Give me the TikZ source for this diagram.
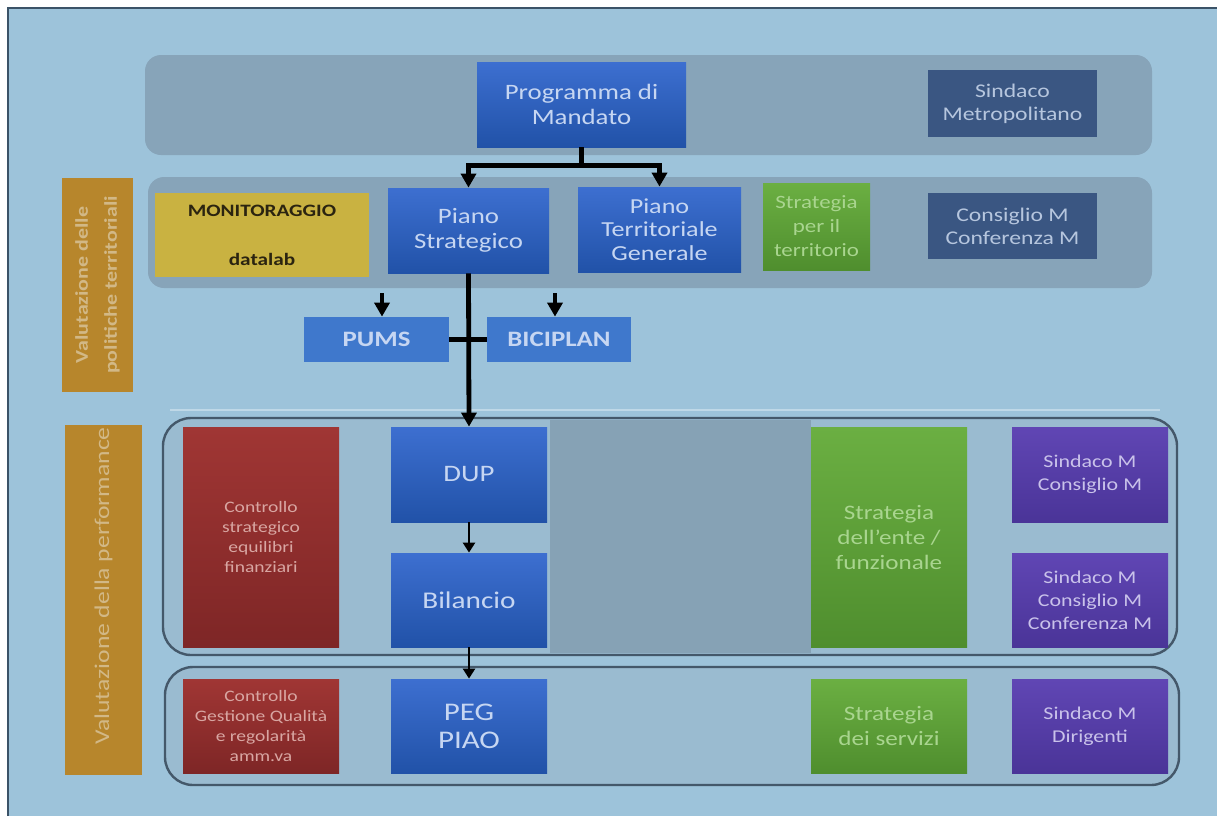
\documentclass[tikz,border=0pt]{standalone}
\usepackage{fontspec}
\setmainfont{Carlito}[FakeStretch=1.22]
\usetikzlibrary{arrows.meta,calc}

\definecolor{bgblue}{HTML}{9DC3DA}
\definecolor{framec}{HTML}{3B5368}
\definecolor{bandc}{HTML}{87A4B9}
\definecolor{panelc}{HTML}{9ABBD0}
\definecolor{grayc}{HTML}{86A2B5}
\definecolor{outlc}{HTML}{44586A}
\definecolor{bluetop}{HTML}{3D6FD0}
\definecolor{bluebot}{HTML}{2152A8}
\definecolor{bluetext}{HTML}{C6D6F2}
\definecolor{pumsc}{HTML}{3F78CC}
\definecolor{navyc}{HTML}{3A5682}
\definecolor{navytext}{HTML}{B6C6DE}
\definecolor{greentop}{HTML}{6BAF42}
\definecolor{greenbot}{HTML}{4F8E2E}
\definecolor{greentext}{HTML}{A9D58F}
\definecolor{olivec}{HTML}{C9B241}
\definecolor{olivetext}{HTML}{2B2410}
\definecolor{redtop}{HTML}{A03634}
\definecolor{redbot}{HTML}{7E2626}
\definecolor{redtext}{HTML}{D8A6A2}
\definecolor{purptop}{HTML}{6046B4}
\definecolor{purpbot}{HTML}{4A3498}
\definecolor{purptext}{HTML}{C9C2EA}
\definecolor{orangec}{HTML}{B7862C}
\definecolor{orangetext}{HTML}{D2B886}

\newcommand{\fsz}[2]{\fontsize{#1}{#2}\selectfont}

\begin{document}
\begin{tikzpicture}[x=0.5pt, y=-0.5pt, >={Triangle[width=7.5pt,length=7pt]},
    box/.style={rectangle, align=center, inner sep=1pt, font=\fsz{11}{12.5}},
    sz/.style 2 args={minimum width=0.5pt*#1, minimum height=0.5pt*#2},
    bluebox/.style={box, top color=bluetop, bottom color=bluebot, text=bluetext},
    navybox/.style={box, fill=navyc, text=navytext, font=\fsz{9.7}{11.5}},
    greenbox/.style={box, top color=greentop, bottom color=greenbot, text=greentext},
    redbox/.style={box, top color=redtop, bottom color=redbot, text=redtext, font=\fsz{8}{10}},
    purpbox/.style={box, top color=purptop, bottom color=purpbot, text=purptext, font=\fsz{9}{11.5}},
    planbox/.style={box, fill=pumsc, text=bluetext, font=\bfseries\fsz{11}{13}},
    sidelab/.style={box, rotate=90, fill=orangec, text=orangetext},
    band/.style={fill=bandc, rounded corners=8pt},
    area/.style={draw=outlc, line width=1.2pt, fill=panelc, rounded corners=14pt},
    link/.style={line width=2.4pt},
    thinlink/.style={line width=1.2pt, >={Triangle[width=6pt,length=5pt]}}]
  \useasboundingbox (0,0) rectangle (1217,816);
  \fill[white] (0,0) rectangle (1217,816);
  \fill[bgblue] (8,8) rectangle (1217,816);
  \draw[framec, line width=1.4pt] (8,816) -- (8,8) -- (1217,8);

  % bands and areas
  \fill[band] (145,55) rectangle (1152,155);
  \fill[band] (148,177) rectangle (1152,288);
  \draw[white!35!bgblue, line width=0.8pt] (170,410) -- (1160,410);
  \draw[area] (163,418) rectangle (1177,655);
  \fill[grayc] (550,420) rectangle (811,653);
  \draw[area] (165,667) rectangle (1179,785);

  % side labels
  \node[sidelab, sz={214}{71}, font=\bfseries\fsz{9}{14.5}] (valterr) at (97.5,285)
    {Valutazione delle\\politiche territoriali};
  \node[sidelab, sz={346}{77}, font=\fsz{10.5}{12}] (valperf) at (103.5,600)
    {\hspace*{14pt}Valutazione della performance};

  % top rows
  \node[bluebox, sz={209}{85}] (prog) at (581.5,104.5) {Programma di\\Mandato};
  \node[navybox, sz={169}{67}] (sindmet) at (1012.5,103.5) {Sindaco\\Metropolitano};
  \node[box, fill=olivec, text=olivetext, sz={214}{84}, font=\bfseries\fsz{8.7}{11}] (monit)
    at (262,235) {MONITORAGGIO\\[13.5pt]datalab};
  \node[bluebox, sz={161}{85}] (pstrat) at (468.5,230.5) {Piano\\Strategico};
  \node[bluebox, sz={163}{85}, font=\fsz{10.7}{11.8}] (pterr) at (659.5,229.5)
    {Piano\\Territoriale\\Generale};
  \node[greenbox, sz={107}{87}, font=\fsz{9.4}{12}] (strterr) at (816.5,226.5)
    {Strategia\\per il\\territorio};
  \node[navybox, sz={169}{66}] (consconf) at (1012.5,226) {Consiglio M\\Conferenza M};
  \node[planbox, sz={145}{45}] (pums) at (376.5,339.5) {PUMS};
  \node[planbox, sz={144}{45}] (bici) at (559,339.5) {BICIPLAN};

  % performance rows
  \node[redbox, sz={156}{220}] (ctrlstr) at (261,537)
    {Controllo\\strategico\\equilibri\\finanziari};
  \node[bluebox, sz={156}{95}, font=\fsz{11.8}{13}] (dup) at (469,474.5) {DUP};
  \node[bluebox, sz={156}{94}, font=\fsz{12}{14}] (bil) at (469,600) {Bilancio};
  \node[greenbox, sz={156}{220}, font=\fsz{10.3}{12.5}] (strente) at (889,537)
    {Strategia\\dell’ente /\\funzionale};
  \node[purpbox, sz={156}{95}] (sc) at (1090,474.5) {Sindaco M\\Consiglio M};
  \node[purpbox, sz={156}{94}] (scc) at (1090,600) {Sindaco M\\Consiglio M\\Conferenza M};
  \node[redbox, sz={156}{94}] (ctrlgest) at (261,726)
    {Controllo\\Gestione Qualità\\e regolarità\\amm.va};
  \node[bluebox, sz={156}{94}, font=\fsz{12.7}{14}] (peg) at (469,726) {PEG\\PIAO};
  \node[greenbox, sz={156}{94}, font=\fsz{10.3}{12.5}] (strserv) at (889,726) {Strategia\\dei servizi};
  \node[purpbox, sz={156}{94}] (sd) at (1090,726) {Sindaco M\\Dirigenti};

  % connectors
  \draw[link,->] (prog.south) -- ++(0,18) -| (pstrat.north);
  \draw[link,->] (prog.south) -- ++(0,18) -| (pterr.north);
  \coordinate (pumsin) at (382,293);
  \coordinate (biciin) at (555,293);
  \draw[link,->] (pumsin) -- (pumsin |- pums.north);
  \draw[link,->] (biciin) -- (biciin |- bici.north);
  \draw[link,->] (pstrat.south) -- (dup.north);
  \draw[link] (pums.east) -- (bici.west);
  \draw[thinlink,->] (dup.south) -- (bil.north);
  \draw[thinlink,->] (bil.south) -- (peg.north);
\end{tikzpicture}
\end{document}
